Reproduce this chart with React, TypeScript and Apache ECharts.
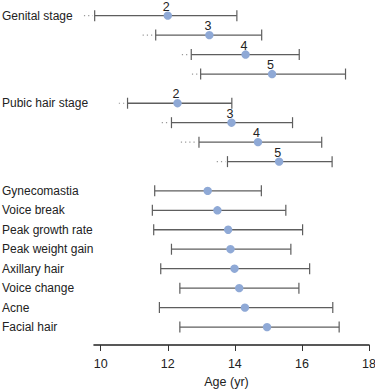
import React, { useEffect, useRef } from "react";
import * as echarts from "echarts";

// ---- Data ----
const stageLabels = ["2", "3", "4", "5"];

const genitalLead = [9.5, 11.25, 12.42, 12.72];
const genitalLow = [9.82, 11.64, 12.7, 12.98];
const genitalMid = [12.0, 13.24, 14.32, 15.11];
const genitalHigh = [14.06, 14.8, 15.92, 17.3];

const pubicLead = [10.54, 11.82, 12.39, 13.46];
const pubicLow = [10.8, 12.11, 12.93, 13.78];
const pubicMid = [12.29, 13.9, 14.69, 15.32];
const pubicHigh = [13.91, 15.72, 16.59, 16.9];

const eventNames = [
  "Gynecomastia",
  "Voice break",
  "Peak growth rate",
  "Peak weight gain",
  "Axillary hair",
  "Voice change",
  "Acne",
  "Facial hair",
];
const eventLow = [11.61, 11.54, 11.58, 12.11, 11.79, 12.36, 11.75, 12.36];
const eventMid = [13.19, 13.48, 13.8, 13.87, 13.99, 14.13, 14.3, 14.96];
const eventHigh = [14.79, 15.52, 16.02, 15.67, 16.23, 15.91, 16.92, 17.11];

const xTicks = [10, 12, 14, 16, 18];
const groupTitles = ["Genital stage", "Pubic hair stage"];

const FONT = "Liberation Sans, Arial, Helvetica, sans-serif";
const GAP = 1.5;

export default function App() {
  const ref = useRef<HTMLDivElement>(null);

  useEffect(() => {
    document.body.style.margin = "0";
    if (!ref.current) return;
    const chart = echarts.init(ref.current, undefined, { renderer: "svg" });

    // build rows
    const items: any[] = [];
    const texts: string[] = [];
    const yLabelMap: Record<string, string> = {};
    let row = 0;
    const addGroup = (
      title: string,
      lead: number[],
      low: number[],
      mid: number[],
      high: number[]
    ) => {
      yLabelMap[String(row)] = title;
      for (let i = 0; i < low.length; i++) {
        items.push([low[i], mid[i], high[i], row, lead[i]]);
        texts.push(stageLabels[i]);
        row += 1;
      }
      row += GAP - 1;
    };
    addGroup(groupTitles[0], genitalLead, genitalLow, genitalMid, genitalHigh);
    addGroup(groupTitles[1], pubicLead, pubicLow, pubicMid, pubicHigh);
    for (let i = 0; i < eventNames.length; i++) {
      yLabelMap[String(row)] = eventNames[i];
      items.push([eventLow[i], eventMid[i], eventHigh[i], row, eventLow[i]]);
      texts.push("");
      row += 1;
    }
    const yLabelValues = Object.keys(yLabelMap).map(Number);
    const lastRow = row - 1;

    const lineColor = "#5e5e5e";
    const renderItem = (params: any, api: any) => {
      const low = api.value(0);
      const mid = api.value(1);
      const high = api.value(2);
      const r = api.value(3);
      const lead = api.value(4);
      const pL = api.coord([low, r]);
      const pM = api.coord([mid, r]);
      const pH = api.coord([high, r]);
      const pLead = api.coord([lead, r]);
      const cap = 5.5;
      const children: any[] = [];
      if (pLead[0] < pL[0] - 1) {
        children.push({
          type: "line",
          shape: { x1: pLead[0], y1: pL[1], x2: pL[0] - 2, y2: pL[1] },
          style: { stroke: "#9a9a9a", lineWidth: 1.2, lineDash: [1.2, 3] },
        });
      }
      children.push(
        {
          type: "line",
          shape: { x1: pL[0], y1: pL[1], x2: pH[0], y2: pH[1] },
          style: { stroke: lineColor, lineWidth: 1.3 },
        },
        {
          type: "line",
          shape: { x1: pL[0], y1: pL[1] - cap, x2: pL[0], y2: pL[1] + cap },
          style: { stroke: lineColor, lineWidth: 1.2 },
        },
        {
          type: "line",
          shape: { x1: pH[0], y1: pH[1] - cap, x2: pH[0], y2: pH[1] + cap },
          style: { stroke: lineColor, lineWidth: 1.2 },
        },
        {
          type: "circle",
          shape: { cx: pM[0], cy: pM[1], r: 4.2 },
          style: { fill: "#8fa9d6" },
        }
      );
      const t = texts[params.dataIndex];
      if (t) {
        children.push({
          type: "text",
          style: {
            text: t,
            x: pM[0] - 1.5,
            y: pM[1] - 9,
            align: "center",
            verticalAlign: "middle",
            fontSize: 12.5,
            fontFamily: FONT,
            fill: "#222",
          },
        });
      }
      return { type: "group", children };
    };

    chart.setOption({
      animation: false,
      backgroundColor: "#fff",
      grid: {
        left: 94,
        right: 6,
        top: 2,
        bottom: 45,
        outerBoundsMode: "none",
        containLabel: false,
      },
      xAxis: {
        type: "value",
        min: 9.8,
        max: 18,
        name: "Age (yr)",
        nameLocation: "middle",
        nameGap: 30,
        nameTextStyle: { fontSize: 12.5, color: "#222", fontFamily: FONT, padding: [0, 10, 0, 0] },
        axisLine: { show: true, onZero: false, lineStyle: { color: "#222", width: 1.6 } },
        axisTick: {
          show: true,
          length: 6,
          customValues: xTicks,
          lineStyle: { color: "#333", width: 1 },
        },
        axisLabel: {
          customValues: xTicks,
          fontSize: 12.5,
          color: "#222",
          fontFamily: FONT,
          margin: 12,
        },
        splitLine: { show: false },
      },
      yAxis: {
        type: "value",
        inverse: true,
        min: -0.7,
        max: lastRow + 0.92,
        axisLine: { show: false },
        axisTick: { show: false },
        splitLine: { show: false },
        axisLabel: {
          customValues: yLabelValues,
          formatter: (v: number) => yLabelMap[String(v)] ?? "",
          align: "left",
          margin: 92,
          fontSize: 12,
          color: "#222",
          fontFamily: FONT,
        },
      },
      series: [
        {
          type: "custom",
          renderItem,
          data: items,
          clip: false,
        },
      ],
    });

    return () => chart.dispose();
  }, []);

  return <div ref={ref} style={{ width: 375, height: 390 }} />;
}
